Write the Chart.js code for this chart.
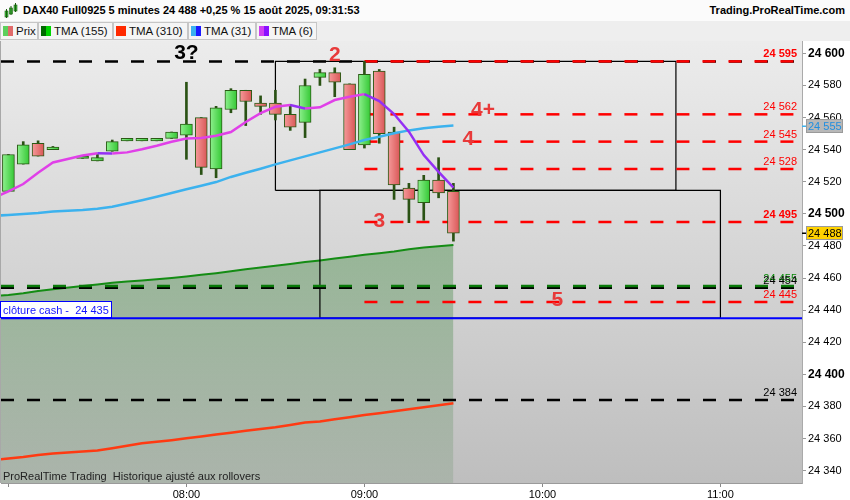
<!DOCTYPE html>
<html>
<head>
<meta charset="utf-8">
<script src="https://cdn.jsdelivr.net/npm/chart.js@4/dist/chart.umd.min.js"></script>
<style>
  body { margin: 0; width: 850px; height: 500px; overflow: hidden; background: #fff; position: relative;
         font-family: "Liberation Sans", Arial, sans-serif; }
  #head { position: absolute; left: 0; top: 0; width: 850px; height: 21px; background: #fbfbfb; }
  #title { position: absolute; left: 23px; top: 4px; font-size: 11px; font-weight: bold; color: #000; }
  #site { position: absolute; right: 5px; top: 4px; font-size: 11px; font-weight: bold; color: #000; }
  #icon { position: absolute; left: 4px; top: 3px; }
  #legend { position: absolute; left: 0; top: 21px; width: 850px; height: 20px; background: #eeeeee; }
  .it { position: absolute; top: 1px; height: 16px; border: 1px solid #c6c6c6; background: #f5f5f5;
        font-size: 11.5px; line-height: 16px; color: #111; box-sizing: content-box; }
  .it span { position: absolute; left: 15px; top: 0; white-space: nowrap; }
  .sw { position: absolute; top: 3px; width: 5px; height: 10px; }
  #wrap { position: absolute; left: 0; top: 41px; width: 850px; height: 459px; }
</style>
</head>
<body>
<div id="head">
  <svg id="icon" width="14" height="16">
    <rect x="1" y="8" width="3" height="6" fill="#3cc83c" stroke="#1c5a10" stroke-width="0.6"/>
    <line x1="2.5" y1="6" x2="2.5" y2="15" stroke="#1c5a10"/>
    <rect x="5.5" y="5" width="3" height="6" fill="#3cc83c" stroke="#1c5a10" stroke-width="0.6"/>
    <line x1="7" y1="3" x2="7" y2="12" stroke="#1c5a10"/>
    <rect x="10" y="2" width="3" height="6" fill="#3cc83c" stroke="#1c5a10" stroke-width="0.6"/>
    <line x1="11.5" y1="0" x2="11.5" y2="9" stroke="#1c5a10"/>
  </svg>
  <div id="title">DAX40 Full0925 5 minutes 24 488 +0,25 % 15 août 2025, 09:31:53</div>
  <div id="site">Trading.ProRealTime.com</div>
</div>
<div id="legend">
  <div class="it" style="left:0;width:36px"><i class="sw" style="left:2px;background:#5ccf5c"></i><i class="sw" style="left:7px;background:#e06a6a"></i><span>Prix</span></div>
  <div class="it" style="left:38px;width:73px"><i class="sw" style="left:2px;background:#006a00"></i><i class="sw" style="left:7px;background:#00d400"></i><span>TMA (155)</span></div>
  <div class="it" style="left:113px;width:73px"><i class="sw" style="left:2px;background:#ff2a00"></i><i class="sw" style="left:7px;background:#ff2a00"></i><span>TMA (310)</span></div>
  <div class="it" style="left:188px;width:66px"><i class="sw" style="left:2px;background:#3ab0f0"></i><i class="sw" style="left:7px;background:#1a1aff"></i><span>TMA (31)</span></div>
  <div class="it" style="left:256px;width:59px"><i class="sw" style="left:2px;background:#d040f0"></i><i class="sw" style="left:7px;background:#8a10ff"></i><span>TMA (6)</span></div>
</div>
<div id="wrap"><canvas id="chart"></canvas></div>
<script>
// 5-minute candles, DAX40 future (07:20 has no candle)
const candleTimes = ['07:00','07:05','07:10','07:15','07:25','07:30','07:35','07:40','07:45','07:50',
  '07:55','08:00','08:05','08:10','08:15','08:20','08:25','08:30','08:35','08:40',
  '08:45','08:50','08:55','09:00','09:05','09:10','09:15','09:20','09:25','09:30'];
const opens  = [24514,24531,24544,24540,24534.5,24533,24539,24545.5,24545.5,24545.5,
  24547,24549,24560,24528,24565,24577,24569,24569,24562,24557,
  24585,24588,24581,24543,24589,24551,24516,24507,24521,24514];
const highs  = [24537,24545,24545.5,24542,24534.5,24537,24546,24545.5,24547,24545.5,
  24551,24582,24560,24567,24578,24577,24573.5,24577,24568,24584,
  24590,24591,24581,24595,24590,24554,24519,24524,24535,24519];
const lows   = [24514,24531,24536,24540,24534.5,24533,24539,24545.5,24545.5,24545.5,
  24547,24534,24524.5,24522.5,24563,24555,24562,24558.5,24552,24547.5,
  24580,24573,24540,24541,24544,24509,24494.5,24496,24510,24483];
const closes = [24537,24543,24536,24540,24534.5,24535,24545,24545.5,24545.5,24545.5,
  24551,24556,24529,24566,24577,24570,24567,24562,24554,24580,
  24588,24582,24540,24587,24550,24518,24509,24521,24513,24488];

// moving averages, one value per candle plus the one just left of the view
const maTimes = ['06:55'].concat(candleTimes);
const tma6   = [24510,24514,24518.6,24525.6,24532,24536.4,24537.8,24537.6,24538.3,24540.2,24542.4,
  24544.9,24547,24547.2,24548.7,24551,24557.2,24562.8,24566.7,24567.8,24565.7,
  24566.4,24570.9,24573,24574.6,24570.3,24562.2,24551.2,24536.6,24526.2,24516.3];
const tma31  = [24498.8,24499.3,24499.9,24500.5,24501.4,24502.4,24503.2,24504.4,24506.5,24508.5,24510.7,
  24513,24515.3,24517.5,24519.8,24523,24525.6,24528.1,24530.8,24533.3,24535.8,
  24538.3,24540.8,24543.3,24546,24548,24550.2,24552,24553.3,24554.3,24555];
const tma155 = [24448.8,24449.5,24450.5,24452,24453,24455,24456,24457,24457.8,24458.5,24459.2,
  24460,24461,24462,24463,24464.2,24465.5,24466.5,24467.6,24468.8,24470,
  24471,24472.2,24473.3,24474.5,24475.5,24476.6,24478,24479,24479.8,24480.6];
const tma310 = [24346.6,24347.5,24348.5,24349.8,24350.7,24352,24352.6,24354,24355.5,24357,24358,
  24359,24360.2,24361.3,24362.5,24363.6,24364.8,24366,24367,24368.5,24370,
  24370.6,24372,24373.3,24374.7,24375.8,24377,24378.2,24379.5,24380.7,24382];

// drawn levels
const redLevels = [24595, 24562, 24545, 24528, 24495, 24445];
const redBold = [24595, 24495];
const redFrom = '09:00';
const blackLevels = [24454, 24384];
const greenLevels = [24455];
const topLevel = 24595;
const cashClose = 24435;

// boxes
const boxFrom = ['08:30', '08:45'];
const boxTo   = ['10:45', '11:00'];
const boxLow  = [24514.6, 24435];
const boxHigh = [24595, 24514.6];

// hand-written marks
const noteText  = ['3?', '2', '4+', '4', '3', '5'];
const noteTime  = ['08:00', '08:50', '09:40', '09:35', '09:05', '10:05'];
const noteValue = [24600, 24598.6, 24564.4, 24546.3, 24495.2, 24446];

// axes
const viewStart = '06:57.5';
const viewEnd = '11:27.5';
const yMin = 24332.3, yMax = 24607.7;
const yTicks = [24340,24350,24360,24370,24380,24390,24400,24410,24420,24430,24440,24450,24460,
  24470,24480,24490,24500,24510,24520,24530,24540,24550,24560,24570,24580,24590,24600];
const hourTimes = ['07:00', '08:00', '09:00', '10:00', '11:00'];
const hourLabels = ['', '08:00', '09:00', '10:00', '11:00'];

const RED = '#ff0000', NOTE_RED = '#e83a3a';

const toIdx = (t) => {
  const [h, m] = t.split(':').map(Number);
  return (h * 60 + m - 420) / 5;
};
const fmt = (v) => {
  const s = String(Math.round(v));
  return s.slice(0, -3) + ' ' + s.slice(-3);
};
const xMin = toIdx(viewStart), xMax = toIdx(viewEnd);

const levelLine = (v, from, color, order, width) => ({
  type: 'line',
  data: [{ x: from, y: v }, { x: xMax + 1, y: v }],
  borderColor: color,
  borderWidth: width || 2.5,
  borderDash: [13, 13],
  pointRadius: 0,
  order: order,
});

const bodyFill = (c) => {
  const i = c.dataIndex;
  const up = closes[i] >= opens[i];
  const sx = c.chart.scales.x;
  if (!sx || !c.chart.chartArea) return up ? '#4fd84f' : '#e87272';
  const px = sx.getPixelForValue(toIdx(candleTimes[i]));
  const g = c.chart.ctx.createLinearGradient(px - 6, 0, px + 6, 0);
  g.addColorStop(0, up ? '#8ef08e' : '#f59a9a');
  g.addColorStop(1, up ? '#34c834' : '#d95656');
  return g;
};

const datasets = [];

datasets.push({
  type: 'line', label: 'TMA (6)',
  data: maTimes.map((t, i) => ({ x: toIdx(t), y: tma6[i] })),
  borderWidth: 2.5, pointRadius: 0, order: 1,
  borderColor: '#e040e8',
  segment: { borderColor: (s) => s.p1.parsed.y < s.p0.parsed.y ? '#9430f4' : '#e040e8' },
});
datasets.push({
  type: 'line', label: 'TMA (31)',
  data: maTimes.map((t, i) => ({ x: toIdx(t), y: tma31[i] })),
  borderColor: '#3cb2ee', borderWidth: 2.5, pointRadius: 0, order: 2,
});
datasets.push({
  type: 'bar', label: 'body',
  data: candleTimes.map((t, i) => ({ x: toIdx(t), y: [opens[i], closes[i]] })),
  backgroundColor: bodyFill, borderColor: '#2a5a14', borderWidth: 1, borderSkipped: false,
  barThickness: 12, minBarLength: 2.5, grouped: false, order: 3,
});
datasets.push({
  type: 'bar', label: 'wick',
  data: candleTimes.map((t, i) => ({ x: toIdx(t), y: [lows[i], highs[i]] })),
  backgroundColor: '#2a5214', borderWidth: 0, barThickness: 2, grouped: false, order: 4,
});
redLevels.forEach((v) => datasets.push(levelLine(v, toIdx(redFrom), RED, 5)));
greenLevels.forEach((v) => datasets.push(levelLine(v, xMin, '#0a7a0a', 6)));
blackLevels.forEach((v) => datasets.push(levelLine(v, xMin, '#000', 7)));
datasets.push(levelLine(topLevel, xMin, '#000', 8));
datasets.push({
  type: 'line', data: [{ x: xMin, y: cashClose }, { x: xMax + 1, y: cashClose }],
  borderColor: '#0000ff', borderWidth: 2, pointRadius: 0, order: 6,
});
boxFrom.forEach((f, i) => {
  const a = toIdx(f), b = toIdx(boxTo[i]);
  datasets.push({
    type: 'line',
    data: [{ x: a, y: boxLow[i] }, { x: a, y: boxHigh[i] }, { x: b, y: boxHigh[i] },
           { x: b, y: boxLow[i] }, { x: a, y: boxLow[i] }],
    borderColor: '#000', borderWidth: 1.2, pointRadius: 0, order: 9,
  });
});
datasets.push({
  type: 'line', label: 'TMA (310)',
  data: maTimes.map((t, i) => ({ x: toIdx(t), y: tma310[i] })),
  borderColor: '#ff3a12', borderWidth: 2.5, pointRadius: 0, order: 10,
});
datasets.push({
  type: 'line', label: 'TMA (155)',
  data: maTimes.map((t, i) => ({ x: toIdx(t), y: tma155[i] })),
  borderColor: '#148c14', borderWidth: 2, pointRadius: 0, order: 11,
  fill: 'start',
  backgroundColor: (c) => {
    const a = c.chart.chartArea;
    if (!a) return 'rgba(0,100,0,0.25)';
    const g = c.chart.ctx.createLinearGradient(0, a.top, 0, a.bottom);
    g.addColorStop(0.45, 'rgba(0,105,0,0.30)');
    g.addColorStop(1, 'rgba(0,90,0,0.10)');
    return g;
  },
});

const decor = {
  id: 'decor',
  beforeDraw(chart) {
    const { ctx, chartArea: a } = chart;
    const g = ctx.createLinearGradient(0, a.top, 0, a.bottom);
    g.addColorStop(0, '#ececec');
    g.addColorStop(1, '#bebebe');
    ctx.save();
    ctx.fillStyle = g;
    ctx.fillRect(a.left, a.top, a.right - a.left, a.bottom - a.top);
    ctx.fillStyle = '#a8a8a8';
    ctx.fillRect(0, a.top, 1, a.bottom - a.top);
    ctx.restore();
  },
  afterDatasetsDraw(chart) {
    const { ctx, chartArea: a } = chart;
    const sx = chart.scales.x, sy = chart.scales.y;
    ctx.save();
    // notes
    ctx.textAlign = 'center';
    ctx.textBaseline = 'middle';
    noteText.forEach((t, i) => {
      ctx.font = 'bold 21px "Liberation Sans", Arial, sans-serif';
      ctx.fillStyle = i === 0 ? '#000' : NOTE_RED;
      ctx.fillText(t, sx.getPixelForValue(toIdx(noteTime[i])), sy.getPixelForValue(noteValue[i]));
    });
    // level tags at the right edge
    ctx.textAlign = 'right';
    ctx.textBaseline = 'alphabetic';
    const tag = (v, color, bold) => {
      ctx.font = (bold ? 'bold ' : '') + '11px "Liberation Sans", Arial, sans-serif';
      ctx.fillStyle = color;
      ctx.fillText(fmt(v), a.right - 5, sy.getPixelForValue(v) - 4);
    };
    redLevels.forEach((v) => tag(v, RED, redBold.includes(v)));
    greenLevels.forEach((v) => tag(v, '#0a8a0a', false));
    blackLevels.forEach((v) => tag(v, '#000', false));
    // cash close label
    const yc = Math.round(sy.getPixelForValue(cashClose));
    ctx.fillStyle = '#fff';
    ctx.fillRect(a.left, yc - 16, 110, 15);
    ctx.strokeStyle = '#0000ff';
    ctx.lineWidth = 1;
    ctx.strokeRect(a.left - 0.5, yc - 16.5, 111, 16);
    ctx.textAlign = 'left';
    ctx.font = '11px "Liberation Sans", Arial, sans-serif';
    ctx.fillStyle = '#1414ff';
    ctx.fillText('clôture cash -  ' + fmt(cashClose), a.left + 2, yc - 4.5);
    // footer
    ctx.fillStyle = '#222';
    ctx.fillText('ProRealTime Trading  Historique ajusté aux rollovers', a.left + 2, a.bottom - 3);
    ctx.restore();
  },
  afterDraw(chart) {
    const { ctx, chartArea: a } = chart;
    const sy = chart.scales.y;
    ctx.save();
    const box = (v, bg, fg, tick) => {
      const y = Math.round(sy.getPixelForValue(v));
      ctx.fillStyle = tick;
      ctx.fillRect(a.right, y - 0.5, 4, 1.5);
      ctx.fillStyle = bg;
      ctx.fillRect(a.right + 4, y - 7, 37, 14);
      ctx.strokeStyle = '#9a9a9a';
      ctx.lineWidth = 1;
      ctx.strokeRect(a.right + 4.5, y - 6.5, 36, 13);
      ctx.fillStyle = fg;
      ctx.font = '11px "Liberation Sans", Arial, sans-serif';
      ctx.textAlign = 'left';
      ctx.textBaseline = 'middle';
      ctx.fillText(fmt(v), a.right + 6, y + 0.5);
    };
    box(tma31[tma31.length - 1], '#b8b8b8', '#1f8ee0', '#3cb2ee');
    box(closes[closes.length - 1], '#ffd200', '#000', '#000');
    ctx.restore();
  },
};

new Chart(document.getElementById('chart'), {
  type: 'line',
  data: { datasets },
  options: {
    responsive: true,
    maintainAspectRatio: false,
    animation: false,
    layout: { padding: { left: 1, top: 0, right: 0, bottom: 0 } },
    plugins: { legend: { display: false }, tooltip: { enabled: false } },
    scales: {
      x: {
        type: 'linear', min: xMin, max: xMax, offset: false,
        afterBuildTicks: (s) => { s.ticks = hourTimes.map((t) => ({ value: toIdx(t) })); },
        afterFit: (s) => { s.height = 17; s.paddingLeft = 0; s.paddingRight = 0; },
        ticks: {
          autoSkip: false, maxRotation: 0, padding: 1, color: '#000',
          font: { size: 11, family: '"Liberation Sans", Arial, sans-serif' },
          callback: (v, i) => hourLabels[i],
        },
        grid: { drawOnChartArea: false, tickLength: 4, color: '#888', offset: false },
        border: { color: '#9a9a9a' },
      },
      y: {
        type: 'linear', position: 'right', min: yMin, max: yMax,
        afterBuildTicks: (s) => { s.ticks = yTicks.map((v) => ({ value: v })); },
        afterFit: (s) => { s.width = 48; s.paddingTop = 0; s.paddingBottom = 0; },
        ticks: {
          padding: 2, color: '#000',
          font: (c) => (c.tick && c.tick.value % 100 === 0)
            ? { size: 12, weight: 'bold', family: '"Liberation Sans", Arial, sans-serif' }
            : { size: 11, family: '"Liberation Sans", Arial, sans-serif' },
          callback: (v) => (v % 20 === 0 ? fmt(v) : ''),
        },
        grid: { drawOnChartArea: false, tickLength: 4, color: '#999' },
        border: { color: '#aaa' },
      },
    },
  },
  plugins: [decor],
});
</script>
</body>
</html>
